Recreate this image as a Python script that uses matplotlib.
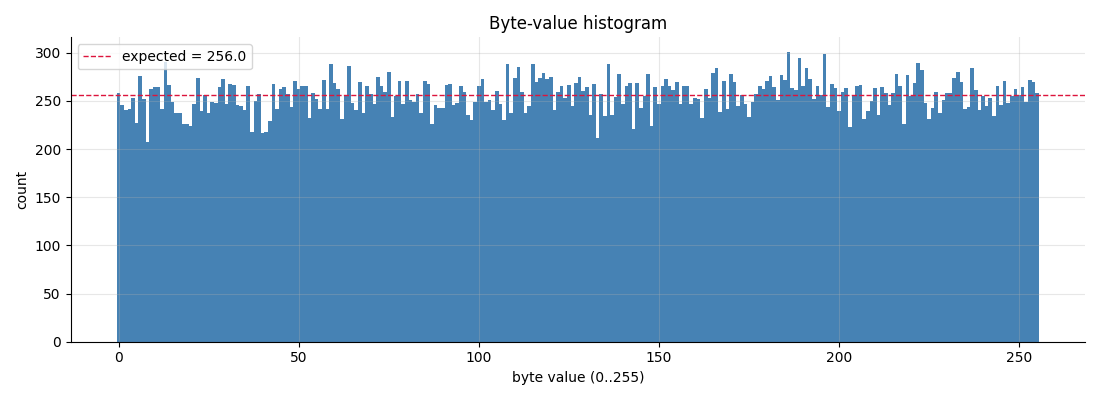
import numpy as np
import matplotlib
matplotlib.use("Agg")
import matplotlib.pyplot as plt

byte_values = list(range(256))
counts = [
    258, 246, 241, 242, 253, 227, 276, 252, 207, 262, 264, 264, 242, 290, 267, 249,
    237, 237, 226, 226, 224, 247, 274, 240, 256, 238, 249, 248, 264, 273, 247, 268,
    267, 246, 245, 241, 265, 218, 250, 257, 217, 218, 229, 268, 242, 262, 264, 257,
    244, 271, 262, 265, 265, 232, 258, 252, 242, 272, 242, 288, 269, 262, 231, 255,
    286, 248, 241, 270, 238, 266, 257, 247, 275, 265, 259, 280, 233, 255, 271, 247,
    271, 251, 249, 257, 238, 271, 268, 226, 246, 243, 243, 267, 268, 246, 248, 265,
    259, 235, 230, 249, 266, 273, 249, 251, 241, 260, 247, 230, 288, 237, 274, 285,
    259, 237, 245, 288, 270, 274, 279, 273, 275, 241, 259, 266, 253, 267, 245, 269,
    275, 260, 264, 235, 268, 212, 257, 234, 288, 235, 254, 278, 247, 265, 269, 221,
    269, 243, 255, 278, 224, 264, 247, 266, 273, 265, 261, 270, 247, 266, 266, 247,
    253, 252, 232, 262, 253, 279, 284, 239, 271, 242, 278, 270, 245, 256, 247, 233,
    249, 257, 265, 262, 271, 276, 264, 251, 277, 272, 301, 263, 261, 295, 266, 284,
    273, 252, 265, 256, 299, 244, 268, 263, 240, 259, 263, 223, 256, 265, 267, 231,
    240, 250, 263, 235, 264, 258, 246, 258, 278, 266, 226, 277, 255, 269, 289, 282,
    248, 231, 243, 259, 237, 251, 258, 258, 274, 280, 270, 242, 244, 284, 261, 241,
    255, 245, 253, 234, 266, 246, 271, 248, 255, 262, 256, 264, 249, 272, 270, 258,
]
n_bytes = 65536
expected = n_bytes / 256

fig, ax = plt.subplots(figsize=(11, 4), dpi=100)
ax.bar(byte_values, counts, width=1.0, color="steelblue", linewidth=0)
ax.axhline(expected, color="crimson", linestyle="--", linewidth=1,
           label=f"expected = {expected:.1f}")
ax.set_title("Byte-value histogram")
ax.set_xlabel("byte value (0..255)")
ax.set_ylabel("count")
ax.grid(alpha=0.3)
ax.spines["top"].set_visible(False)
ax.spines["right"].set_visible(False)
ax.legend(loc="upper left")
fig.tight_layout()
fig.savefig("out.png")
